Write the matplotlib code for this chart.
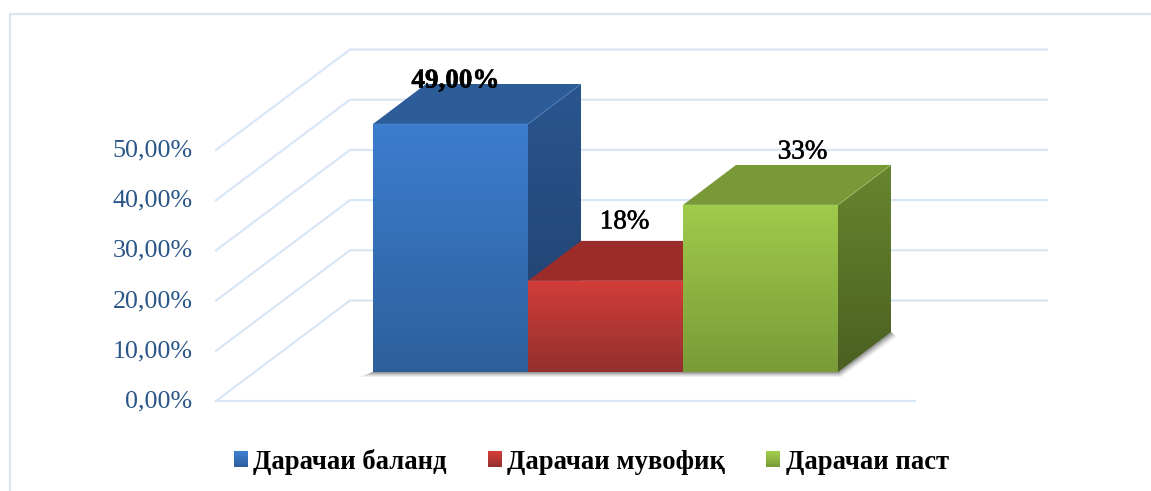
# 3D-look bar chart, oblique depth drawn by hand since mplot3d can't do this view
import numpy as np
import matplotlib
matplotlib.use("Agg")
import matplotlib.pyplot as plt
import matplotlib.patheffects as pe
from matplotlib.colors import LinearSegmentedColormap
from matplotlib.legend_handler import HandlerBase
from matplotlib.patches import Patch, Polygon, Rectangle
from matplotlib.transforms import ScaledTranslation

categories = ["Дарачаи баланд", "Дарачаи мувофиқ", "Дарачаи паст"]
values = [49, 18, 33]
value_labels = ["49,00%", "18%", "33%"]
ticks = [0, 10, 20, 30, 40, 50]
tick_labels = ["0,00%", "10,00%", "20,00%", "30,00%", "40,00%", "50,00%"]

front_cols = [("#3c7dce", "#2e5f9c"), ("#d23d39", "#93302e"), ("#a0cb4b", "#799b38")]
top_cols = ["#2c5d98", "#9c2c2a", "#799837"]
side_cols = [("#2a568e", "#1f3f6b"), ("#7d2523", "#6a1f1d"), ("#67862f", "#4b6021")]
edge_cols = ["#5a8fd0", "#d86a66", "#b5d57a"]
# label offsets from the front top centre of each bar, in pixels
label_px = [(5, 43), (19, 59), (42, 53)]

W, H = 1151, 491
GRID = "#d9e6f6"
plt.rcParams["font.family"] = ["Liberation Serif", "DejaVu Serif"]


def box(x0, x1, y0, y1):
    return [x0 / W, 1 - y1 / H, (x1 - x0) / W, (y1 - y0) / H]


def grad(ax, pts, cols, zorder):
    # vertical gradient image clipped to a polygon
    pts = np.array(pts)
    cmap = LinearSegmentedColormap.from_list("g", cols)
    im = ax.imshow(np.linspace(0, 1, 128)[:, None], cmap=cmap, aspect="auto", origin="upper",
                   extent=(pts[:, 0].min(), pts[:, 0].max(), pts[:, 1].min(), pts[:, 1].max()),
                   zorder=zorder, interpolation="bilinear")
    clip = Polygon(pts, closed=True, transform=ax.transData)
    im.set_clip_path(clip)


class GradHandler(HandlerBase):
    def create_artists(self, legend, orig, xd, yd, width, height, fontsize, trans):
        c0, c1 = orig.cols
        cmap = LinearSegmentedColormap.from_list("h", [c1, c0])
        n = 10
        out = []
        for i in range(n):
            out.append(Rectangle((-xd, -yd + height * i / n), width, height / n + 0.2,
                                 fc=cmap(i / (n - 1)), ec="none", transform=trans))
        return out


fig = plt.figure(figsize=(W / 100, H / 100), dpi=100)

# outer frame, open at the right and bottom
frame = fig.add_axes([0, 0, 1, 1])
frame.set_xlim(0, W)
frame.set_ylim(H, 0)
frame.axis("off")
frame.plot([10, 10, W], [H, 14, 14], color=GRID, lw=1.6)

# grid, floor and back wall
ax_g = fig.add_axes(box(216, 915, 150, 401))
ax_g.set_xlim(0, 699)
ax_g.set_ylim(0, 50)
ax_g.patch.set_visible(False)
for s in ax_g.spines.values():
    s.set_visible(False)
ax_g.set_xticks([])
ax_g.set_yticks(ticks, tick_labels, fontsize=18.7, color="#2a5587")
ax_g.tick_params(axis="y", length=0, pad=17)
up = ScaledTranslation(0, 2 / 72 * 0.72, fig.dpi_scale_trans)
for lab in ax_g.get_yticklabels():
    lab.set_transform(lab.get_transform() + up)
wall_dx, wall_dy = 134, 100.5 / 5.02
for t in ticks:
    ax_g.plot([0, wall_dx, 831], [t, t + wall_dy, t + wall_dy], color=GRID, lw=1.6, clip_on=False)
ax_g.plot([0, 699], [0, 0], color=GRID, lw=1.6, clip_on=False)

# bars, axes goes up to the back edge so the gradient images are not cut
ax_b = fig.add_axes(box(373, 891, 84, 372))
ax_b.patch.set_visible(False)
ax_b.axis("off")
dx, dy = 53 / 155, 40 / (248 / 49)
n = len(values)

# soft shadow under the block
for grow, alpha in zip([1.0, 0.75, 0.5, 0.25], [0.08, 0.12, 0.18, 0.25]):
    gx, gy = grow * 14 / 155, grow * 5 / (248 / 49)
    ax_b.add_patch(Polygon([(-0.5 - gx, -gy), (n - 0.5 + 0.02 * grow, -gy),
                            (n - 0.5 + dx + gx * 0.4, dy - gy), (n - 0.5 + dx, dy), (-0.5, 0)],
                           fc="#333333", alpha=alpha, ec="none", zorder=1, clip_on=False))

for i, v in enumerate(values):
    z = 2 + i
    x0, x1 = i - 0.5, i + 0.5
    grad(ax_b, [(x1, 0), (x1 + dx, dy), (x1 + dx, v + dy), (x1, v)], side_cols[i], z)
    ax_b.add_patch(Polygon([(x0, v), (x0 + dx, v + dy), (x1 + dx, v + dy), (x1, v)],
                           fc=top_cols[i], ec="none", zorder=z, clip_on=False))
    grad(ax_b, [(x0, 0), (x1, 0), (x1, v), (x0, v)], front_cols[i], z)
    ax_b.plot([x0, x1, x1 + dx], [v, v, v + dy], color=edge_cols[i], lw=0.5, alpha=0.6, zorder=z, clip_on=False)

ax_b.set_xlim(-0.5, n - 0.5 + dx)
ax_b.set_ylim(0, max(values) + dy)

for i, v in enumerate(values):
    weight = "bold" if i == 0 else "normal"
    ax_b.annotate(value_labels[i], (i, v), xytext=(label_px[i][0] * 0.72, label_px[i][1] * 0.72),
                  textcoords="offset points", ha="center", va="center", fontsize=19.5,
                  fontweight=weight, color="black", zorder=10, annotation_clip=False,
                  path_effects=[pe.withStroke(linewidth=0.4, foreground="black")])

# legend
handles = []
for c, name in zip(front_cols, categories):
    p = Patch(label=name)
    p.cols = c
    handles.append(p)
fig.legend(handles=handles, handler_map={Patch: GradHandler()}, ncol=3, frameon=False,
           loc="center left", bbox_to_anchor=(234 / W, 1 - 462 / H), borderpad=0, borderaxespad=0,
           prop={"size": 19.2, "weight": "bold"},
           handlelength=0.52, handleheight=0.52, handletextpad=0.2, columnspacing=1.55)

fig.savefig("out.png", dpi=100)
